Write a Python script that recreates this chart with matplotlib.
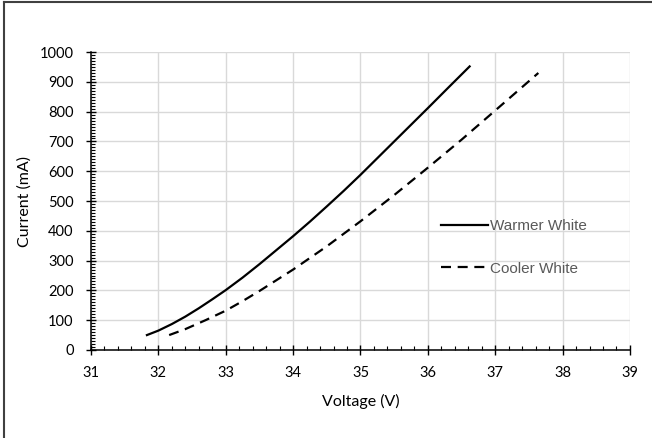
"""LED I-V curves: warmer vs cooler white."""

import matplotlib
matplotlib.use("Agg")
import matplotlib.pyplot as plt
import matplotlib.ticker as ticker
from matplotlib.lines import Line2D

# ── data ───────────────────────────────────────────────────────────────────────
warm_v = [31.83, 32.0, 32.2, 32.4, 32.6, 32.8, 33.0, 33.25, 33.5, 33.75, 34.0,
          34.25, 34.5, 34.75, 35.0, 35.25, 35.5, 35.75, 36.0, 36.3, 36.62]
warm_i = [50, 65, 87, 112, 140, 170, 201, 243, 288, 335, 382,
          431, 482, 534, 588, 644, 700, 756, 812, 880, 952]

cool_v = [32.16, 32.4, 32.7, 33.0, 33.25, 33.5, 33.75, 34.0, 34.25, 34.5, 34.75,
          35.0, 35.25, 35.5, 35.75, 36.0, 36.25, 36.5, 36.75, 37.0, 37.3, 37.64]
cool_i = [50, 70, 100, 132, 164, 198, 234, 270, 309, 348, 390,
          432, 476, 520, 566, 612, 659, 706, 755, 804, 863, 930]

labels = ["Warmer White", "Cooler White"]

plt.rcParams["font.family"] = ["Lato", "DejaVu Sans"]

fig = plt.figure(figsize=(6.52, 4.38), dpi=100)
ax = fig.add_axes([0.1396, 0.201, 0.8266, 0.680])

ax.plot(warm_v, warm_i, color="black", lw=1.6, label=labels[0])
ax.plot(cool_v, cool_i, color="black", lw=1.6, dashes=(4.5, 3), label=labels[1])

ax.set_xlim(31, 39)
ax.set_ylim(0, 1000)
ax.xaxis.set_major_locator(ticker.MultipleLocator(1))
ax.xaxis.set_minor_locator(ticker.MultipleLocator(0.2))
ax.yaxis.set_major_locator(ticker.MultipleLocator(100))
ax.yaxis.set_minor_locator(ticker.MultipleLocator(10))

ax.tick_params(which="major", direction="inout", length=7, width=1, labelsize=10.5,
               colors="black")
ax.tick_params(which="minor", direction="in", length=3, width=0.8)
ax.tick_params(axis="x", which="major", pad=8)
ax.tick_params(axis="y", which="major", pad=9)

ax.grid(True, which="major", color="#d9d9d9", lw=1)
ax.set_axisbelow(True)
for side in ("top", "right"):
    ax.spines[side].set_visible(False)
for side in ("left", "bottom"):
    ax.spines[side].set_linewidth(1.1)

ax.set_xlabel("Voltage (V)", fontsize=11.5, labelpad=10)
ax.set_ylabel("Current (mA)", fontsize=11.5, labelpad=6)

leg = ax.legend(loc="upper left", bbox_to_anchor=(0.624, 0.485), frameon=False,
                handlelength=3.1, handletextpad=0.1, labelspacing=1.85,
                prop={"family": ["Liberation Sans"], "size": 11})
for t in leg.get_texts():
    t.set_color("#595959")

# chart-area border (only left and top edges show in the reference)
fig.add_artist(Line2D([0.006, 0.006], [0, 0.996], transform=fig.transFigure,
                      color="#404040", lw=1.5))
fig.add_artist(Line2D([0.006, 1], [0.996, 0.996], transform=fig.transFigure,
                      color="#404040", lw=1.5))

fig.savefig("out.png", dpi=100)
